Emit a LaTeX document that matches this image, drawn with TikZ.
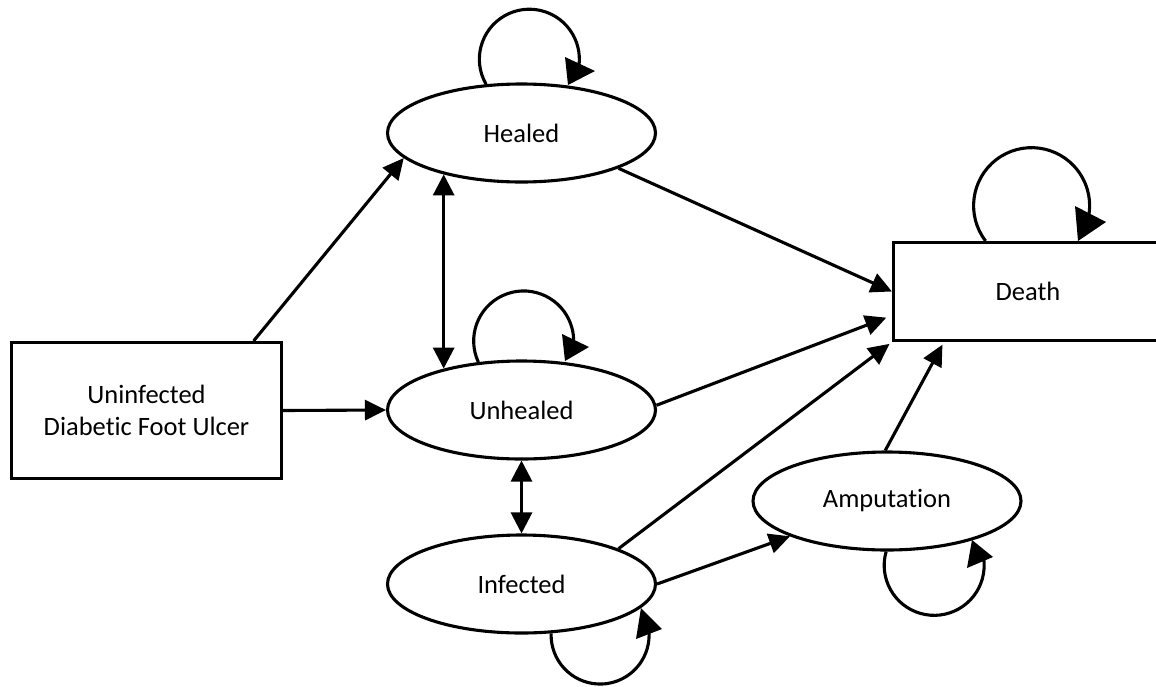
\documentclass[tikz,border=0pt]{standalone}
\usepackage{fontspec}
\setmainfont{Carlito}[Ligatures=NoCommon]
\usetikzlibrary{arrows.meta,shapes.geometric}
\begin{document}
\begin{tikzpicture}[x=1pt,y=1pt,
  every node/.style={font=\fontsize{26.5}{32}\selectfont},
  state/.style={draw, line width=3.1pt, ellipse, minimum width=268pt, minimum height=98pt, inner sep=0pt},
  box/.style={draw, line width=3.1pt, rectangle, align=center, inner sep=0pt},
  edge/.style={line width=3.1pt, -{Triangle[length=21pt,width=20pt]}},
  biedge/.style={line width=3.1pt, {Triangle[length=21pt,width=21pt]}-{Triangle[length=21pt,width=21pt]}},
  selfloop/.style={line width=3.1pt},
]
\clip (0,0) rectangle (1156,-686);

% states
\node[box, minimum width=270pt, minimum height=136pt] (ulcer) at (146.5,-410.5) {Uninfected\\Diabetic Foot Ulcer};
\node[state] (heal) at (521.5,-133) {Healed};
\node[state] (unh)  at (521.5,-410) {Unhealed};
\node[state] (inf)  at (521.5,-584) {Infected};
\node[state] (amp)  at (887,-501) {Amputation};
\node[box, minimum width=269pt, minimum height=98pt] (death) at (1028,-291.5) {Death};

% transitions
\draw[edge] (ulcer.33) -- (heal.192);
\draw[edge] (ulcer.east) -- (unh.west);
\draw[biedge] (heal.208) -- (unh.152);
\draw[biedge] (unh.south) -- (inf.north);
\draw[edge] (heal.-20) -- (death.west);
\draw[edge, shorten >=6pt] (unh.2) -- (death.190);
\draw[edge, shorten >=3pt] (inf.20) -- (death.south west);
\draw[edge] (inf.east) -- (amp.200);
\draw[edge, shorten >=3pt] (amp.92) -- (death.211);

% self transitions
\draw[selfloop] (heal.126) arc[start angle=210, end angle=-12, radius=50];
\fill (565,-57) -- (595,-71) -- (568,-85) -- cycle;

\draw[selfloop] (unh.132) arc[start angle=205, end angle=-12, radius=50];
\fill (562,-334) -- (589,-347) -- (565,-361) -- cycle;

\draw[selfloop] (death.130) arc[start angle=217.5, end angle=-12, radius=58];
\fill (1075,-206) -- (1106,-222) -- (1078,-241) -- cycle;

\draw[selfloop] (inf.-59) arc[start angle=178, end angle=370, radius=49];
\fill (641,-608) -- (662,-629) -- (636,-639) -- cycle;

\draw[selfloop] (amp.-91) arc[start angle=164, end angle=370, radius=50];
\fill (972,-540) -- (993,-557) -- (967,-568) -- cycle;
\end{tikzpicture}
\end{document}
